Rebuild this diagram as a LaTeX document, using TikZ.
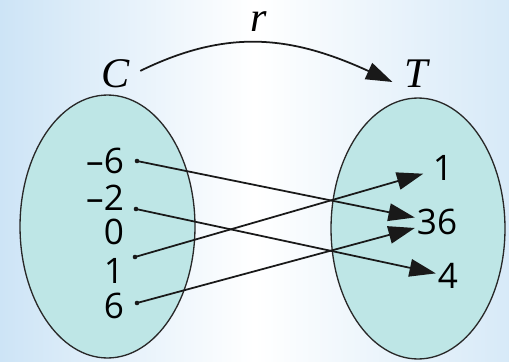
\documentclass[tikz,border=0pt]{standalone}
\usepackage{fontspec}
\newfontfamily\numfont{Open Sans}
\newfontfamily\letterfont{Liberation Serif}
\usetikzlibrary{arrows.meta,shapes.geometric}
\definecolor{setfill}{RGB}{190,230,230}
\definecolor{bgblue}{RGB}{205,228,246}
\definecolor{rimgrey}{RGB}{40,40,40}

\begin{document}
\begin{tikzpicture}[x=0.02cm, y=-0.02cm,
    setblob/.style={ellipse, draw=rimgrey, line width=0.75pt, fill=setfill, inner sep=0pt},
    num/.style={font=\numfont\fontsize{20}{20}\selectfont, inner sep=1pt},
    letter/.style={font=\letterfont\itshape\fontsize{24}{24}\selectfont, inner sep=2pt},
    maparr/.style={-{Triangle[length=15pt,width=10pt]}, line width=1pt, black!90},
    pin/.style={fill=black!90}
]
    % background
    \useasboundingbox (0,0) rectangle (509,361);
    \shade[left color=bgblue, right color=bgblue!80, middle color=white] (0,0) rectangle (509,361);

    % the two sets
    \node[setblob, minimum width=3.5cm, minimum height=5.26cm] (Cset) at (107.5,226.5) {};
    \node[setblob, minimum width=3.48cm, minimum height=5.22cm] (Tset) at (418,228.5) {};

    % set names and relation
    \node[letter] (C) at (116,74) {C};
    \node[letter] (T) at (416,74) {T};
    \node[letter] (r) at (259,22) {r};
    \draw[maparr, shorten <=4pt] (C.east) .. controls (228,28) and (292,36) .. ([shift={(-8,8)}]T.west);

    % domain
    \node[num, anchor=east] (cm6) at (126,161) {–6};
    \node[num, anchor=east] (cm2) at (126,198) {–2};
    \node[num, anchor=east] (c0) at (126,232) {0};
    \node[num, anchor=east] (c1) at (126,271) {1};
    \node[num, anchor=east] (c6) at (126,306) {6};
    \coordinate (dm6) at (137,161);
    \coordinate (dm2) at (136,209);
    \coordinate (d1) at (135,257);
    \coordinate (d6) at (137,303);
    \foreach \d in {dm6,dm2,d1,d6} \fill[pin] (\d) circle (2.3);

    % range
    \node[num] (t1) at (443,168) {1};
    \node[num] (t36) at (437,222) {36};
    \node[num] (t4) at (448,276) {4};

    % mapping
    \draw[maparr] (dm6) -- (t36);
    \draw[maparr] (dm2) -- (t4);
    \draw[maparr, shorten >=4.5pt] (d1) -- (t1);
    \draw[maparr] (d6) -- (t36);
\end{tikzpicture}
\end{document}
